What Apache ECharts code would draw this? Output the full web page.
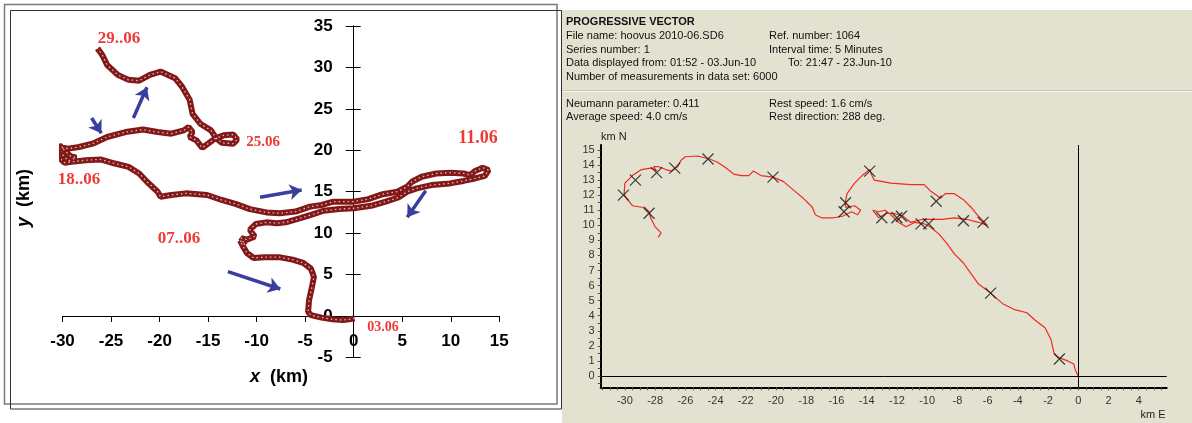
<!DOCTYPE html>
<html>
<head>
<meta charset="utf-8">
<script src="https://cdn.jsdelivr.net/npm/echarts@6/dist/echarts.min.js"></script>
<style>
  html, body { margin: 0; padding: 0; background: #fff; }
  #chart { width: 1192px; height: 423px; }
</style>
</head>
<body>
<div id="chart"></div>
<script>
// left plot: drift track in km (x east, y north)
const leftTrack = [
  [0.1,-0.3],[0,-0.5],[-1.1,-0.5],[-2.2,-0.4],[-3.3,-0.2],[-4.4,0.1],[-4.7,0.5],[-4.6,1.9],
  [-4.3,3.5],[-4.1,4.7],[-4.4,5.7],[-5.2,6.4],[-6.3,6.8],[-7.7,7.1],[-9.2,7.1],[-10.3,7.0],
  [-11.0,7.6],[-11.4,8.4],[-11.7,9.1],[-11.2,8.6],[-11.6,9.4],[-11.0,9.2],[-10.2,9.6],[-10.7,10.4],
  [-10.1,11.1],[-9.0,11.3],[-7.9,11.2],[-7.0,11.3],[-5.5,11.8],[-4.4,12.2],[-3.1,12.7],[-1.5,12.9],
  [0,13.0],[1.8,13.3],[3.3,13.8],[4.6,14.3],[5.5,15.0],[6.5,15.4],[8.0,15.8],[9.9,16.0],
  [11.3,16.3],[12.5,16.6],[13.5,16.9],[13.9,17.6],[13.3,17.9],[12.5,17.5],[12.0,17.0],[11.3,17.2],
  [10.0,17.3],[8.5,17.2],[7.0,16.8],[6.0,16.2],[5.5,15.6],[4.5,15.0],[3.0,14.7],[1.5,14.1],
  [0,13.8],[-2.1,13.8],[-3.3,13.4],[-4.5,13.2],[-6.0,12.6],[-7.6,12.4],[-9.0,12.5],[-10.7,12.9],
  [-12.1,13.5],[-13.6,14.0],[-15.1,14.6],[-17.3,14.8],[-18.8,14.6],[-19.9,14.4],[-20.2,15.0],[-21.3,16.2],
  [-22.1,17.2],[-23.2,18.0],[-24.6,18.4],[-26.1,18.9],[-27.6,18.8],[-29.1,18.6],[-29.8,18.5],[-30.4,19.2],
  [-30.6,19.9],[-30.3,20.6],[-29.7,19.9],[-29.2,19.3],[-28.6,19.1],[-29.4,18.7],[-30.1,19.6],[-30.4,20.4],
  [-29.4,20.2],[-28.3,20.4],[-26.9,20.8],[-25.4,21.6],[-23.5,22.2],[-21.7,22.5],[-20.2,22.2],[-18.8,22.0],
  [-17.5,22.4],[-17.0,22.8],[-16.6,22.2],[-16.9,21.6],[-16.2,21.2],[-15.6,20.3],[-15.0,20.8],[-14.3,21.4],
  [-13.4,21.8],[-12.4,21.9],[-12.0,21.3],[-12.4,20.8],[-13.6,20.9],[-14.2,21.5],[-14.7,22.4],[-15.8,23.2],
  [-16.6,24.4],[-16.9,26.1],[-17.7,27.7],[-18.4,28.7],[-19.9,29.5],[-21.0,29.1],[-22.1,28.4],[-23.2,28.5],
  [-24.3,29.1],[-25.4,30.3],[-25.9,31.5],[-26.4,32.3]
]
// blue arrows [from, to]
const leftArrows = [
  [[-22.7, 23.9], [-21.3, 27.6]],
  [[-27.0, 23.9], [-26.0, 22.05]],
  [[-9.65, 14.33], [-5.36, 15.21]],
  [[7.42, 15.12], [5.52, 11.91]],
  [[-12.96, 5.35], [-7.56, 3.26]]
]

// right plot: progressive vector
const rightTrack = [
  [0,0],[-0.2,0.4],[-0.3,0.8],[-0.7,1.0],[-1.25,1.2],[-1.6,1.5],[-1.8,2.4],[-2.2,3.2],
  [-2.85,3.7],[-3.4,4.2],[-4.2,4.4],[-5.0,4.8],[-5.8,5.5],[-6.6,6.1],[-7.1,6.8],[-7.6,7.5],
  [-8.2,8.1],[-8.7,8.8],[-9.2,9.4],[-9.8,9.9],[-10.2,10.1],[-10.8,10.2],[-11.4,9.9],[-11.9,10.2],
  [-12.4,10.7],[-12.8,11.0],[-13.2,10.9],[-13.6,11.0],[-13.2,10.5],[-12.7,10.8],[-12.2,10.8],[-11.6,10.6],
  [-11.1,10.2],[-10.3,10.4],[-9.0,10.4],[-8.2,10.5],[-7.4,10.4],[-6.6,10.2],[-6.0,10.0],[-6.6,10.6],
  [-7.1,11.2],[-7.6,11.7],[-8.2,12.1],[-8.8,12.1],[-9.1,11.8],[-9.8,12.3],[-10.2,12.7],[-11.1,12.7],
  [-12.4,12.8],[-13.5,13.0],[-13.7,13.4],[-13.8,13.7],[-14.3,13.3],[-14.8,12.8],[-15.3,12.1],[-15.4,11.6],
  [-15.4,11.2],[-14.8,11.3],[-14.4,11.0],[-14.6,10.7],[-15.0,10.9],[-15.6,10.6],[-16.2,10.5],[-17.0,10.5],
  [-17.4,10.7],[-17.6,11.2],[-18.2,11.8],[-18.8,12.3],[-19.5,12.9],[-20.2,13.2],[-21.0,13.3],[-21.5,13.6],
  [-21.8,13.3],[-22.3,13.3],[-22.8,13.4],[-23.3,13.8],[-23.9,14.2],[-24.4,14.4],[-25.2,14.6],[-26.0,14.55],
  [-26.3,14.3],[-26.5,13.9],[-26.9,13.6],[-27.3,13.7],[-27.8,13.9],[-28.1,13.9],[-27.9,13.6],[-28.3,13.8],
  [-28.9,13.7],[-29.5,13.3],[-30.0,12.8],[-30.05,12.1],[-29.9,11.8],[-29.5,11.3],[-28.9,11.2],[-28.7,11.2],
  [-28.4,10.9],[-28.3,10.5],[-28.0,9.9],[-27.8,9.7],[-27.6,9.5],[-27.8,9.2]
]
// daily cross markers
const rightMarks = [
  [-1.25,1.13],[-5.8,5.5],[-6.3,10.2],[-7.6,10.3],[-9.4,11.6],[-9.9,10.1],[-10.4,10.1],
  [-11.7,10.6],[-12.0,10.5],[-13.0,10.5],[-13.8,13.6],[-15.4,11.5],[-15.5,10.9],[-20.2,13.2],
  [-24.5,14.4],[-26.7,13.8],[-27.9,13.5],[-29.3,13.0],[-30.1,12.0],[-28.4,10.8]
]
const rightXLabels = [-30,-28,-26,-24,-22,-20,-18,-16,-14,-12,-10,-8,-6,-4,-2,0,2,4]
const rightYLabels = [0,1,2,3,4,5,6,7,8,9,10,11,12,13,14,15]
const rightXTicks = []
for (let v = -31.5; v <= 5.5; v += 0.5) rightXTicks.push(v)
const rightYTicks = []
for (let v = -0.5; v <= 15; v += 0.5) rightYTicks.push(v)

const infoLines = [
  ['PROGRESSIVE VECTOR', '', 22, true],
  ['File name: hoovus 2010-06.SD6', 'Ref. number: 1064', 36],
  ['Series number: 1', 'Interval time: 5 Minutes', 50],
  ['Data displayed from: 01:52 - 03.Jun-10', 'To: 21:47 - 23.Jun-10', 63],
  ['Number of measurements in data set: 6000', '', 77],
  ['Neumann parameter: 0.411', 'Rest speed: 1.6 cm/s', 104],
  ['Average speed: 4.0 cm/s', 'Rest direction: 288 deg.', 117]
]
const dateLabels = [
  ['29..06', 119, 39, 17], ['25.06', 263, 142, 15], ['11.06', 478, 138, 18],
  ['18..06', 79, 180, 17], ['07..06', 179, 239, 17], ['03.06', 383, 327, 14]
]

const chart = echarts.init(document.getElementById('chart'))
const sans = 'Liberation Sans, Arial, sans-serif'
const serif = 'Liberation Serif, Times New Roman, serif'

// left grid box, used to move the axes onto the zero lines
const L = { left: 62.5, top: 26, width: 436.8, height: 331.4 }
const xZeroOffset = -(L.height * 5 / 40)      // y = 0 sits 5/40 above the bottom
const yZeroOffset = -(L.width * 30 / 45)      // x = 0 sits 30/45 right of the left edge

const graphics = [
  { type: 'rect', z: -10, shape: { x: 562, y: 10, width: 630, height: 413 }, style: { fill: '#e3e1d0' } },
  { type: 'rect', shape: { x: 4.5, y: 4.5, width: 552.5, height: 399.5 }, style: { fill: 'none', stroke: '#7a7a7a', lineWidth: 1.5 } },
  { type: 'rect', shape: { x: 10.5, y: 10.5, width: 551, height: 398.5 }, style: { fill: 'none', stroke: '#333', lineWidth: 1 } },
  { type: 'line', shape: { x1: 562, y1: 91.5, x2: 1192, y2: 91.5 }, style: { stroke: '#f4f3ea', lineWidth: 1 } },
  { type: 'line', shape: { x1: 562, y1: 90.5, x2: 1192, y2: 90.5 }, style: { stroke: '#c9c7b6', lineWidth: 1 } },
  {
    type: 'text', x: 279, y: 377,
    style: {
      text: '{i|x}  (km)', font: 'bold 18px ' + sans, fill: '#000',
      align: 'center', verticalAlign: 'middle',
      rich: { i: { fontStyle: 'italic', fontWeight: 'bold', fontSize: 18, fontFamily: sans } }
    }
  },
  {
    type: 'text', x: 24, y: 198, rotation: Math.PI / 2,
    style: {
      text: '{i|y}  (km)', font: 'bold 18px ' + sans, fill: '#000',
      align: 'center', verticalAlign: 'middle',
      rich: { i: { fontStyle: 'italic', fontWeight: 'bold', fontSize: 18, fontFamily: sans } }
    }
  },
  {
    type: 'text', x: 601, y: 137,
    style: { text: 'km N', font: '11px ' + sans, fill: '#222', align: 'left', verticalAlign: 'middle' }
  },
  {
    type: 'text', x: 1153, y: 415,
    style: { text: 'km E', font: '11px ' + sans, fill: '#222', align: 'center', verticalAlign: 'middle' }
  }
]
dateLabels.forEach(function (d) {
  graphics.push({
    type: 'text', x: d[1], y: d[2],
    style: { text: d[0], font: 'bold ' + d[3] + 'px ' + serif, fill: '#ee3a36', align: 'center', verticalAlign: 'middle' }
  })
})
infoLines.forEach(function (l) {
  graphics.push({
    type: 'text', x: 566, y: l[2],
    style: { text: l[0], font: (l[3] ? 'bold ' : '') + '11px ' + sans, fill: '#111', align: 'left', verticalAlign: 'middle' }
  })
  if (l[1]) {
    graphics.push({
      type: 'text', x: l[0].indexOf('Data') === 0 ? 788 : 769, y: l[2],
      style: { text: l[1], font: '11px ' + sans, fill: '#111', align: 'left', verticalAlign: 'middle' }
    })
  }
})

const option = {
  animation: false,
  backgroundColor: '#fff',
  grid: [
    L,
    { left: 600.7, top: 145, width: 566, height: 242.3 }
  ],
  xAxis: [
    {
      gridIndex: 0, type: 'value', position: 'bottom', offset: xZeroOffset,
      min: -30, max: 15, interval: 5,
      axisLine: { onZero: false, lineStyle: { color: '#000', width: 1 } },
      axisTick: { length: 6, lineStyle: { color: '#000' } },
      axisLabel: { margin: 17, color: '#000', fontSize: 17, fontWeight: 'bold', fontFamily: sans },
      splitLine: { show: false }
    },
    {
      gridIndex: 1, type: 'value', min: -31.6, max: 5.85,
      axisLine: { onZero: false, lineStyle: { color: '#000', width: 2 } },
      axisTick: { customValues: rightXTicks, length: 3, lineStyle: { color: '#555' } },
      axisLabel: { customValues: rightXLabels, margin: 8, color: '#333', fontSize: 11, fontFamily: sans },
      splitLine: { show: false }
    }
  ],
  yAxis: [
    {
      gridIndex: 0, type: 'value', position: 'left', offset: yZeroOffset,
      min: -5, max: 35, interval: 5,
      axisLine: { onZero: false, lineStyle: { color: '#000', width: 1 } },
      axisTick: { length: 8, lineStyle: { color: '#000' } },
      axisLabel: { margin: 21, color: '#000', fontSize: 17, fontWeight: 'bold', fontFamily: sans },
      splitLine: { show: false }
    },
    {
      gridIndex: 0, type: 'value', position: 'left', offset: yZeroOffset,
      min: -5, max: 35, interval: 5,
      axisLine: { onZero: false, lineStyle: { color: '#000', width: 1 } },
      axisTick: { inside: true, length: 7, lineStyle: { color: '#000' } },
      axisLabel: { show: false },
      splitLine: { show: false }
    },
    {
      gridIndex: 1, type: 'value', min: -0.75, max: 15.33,
      axisLine: { onZero: false, lineStyle: { color: '#000', width: 2 } },
      axisTick: { customValues: rightYTicks, length: 3, lineStyle: { color: '#555' } },
      axisLabel: { customValues: rightYLabels, margin: 6, color: '#333', fontSize: 11, fontFamily: sans },
      splitLine: { show: false }
    }
  ],
  graphic: graphics,
  series: [
    {
      type: 'line', xAxisIndex: 0, yAxisIndex: 0, data: leftTrack,
      showSymbol: false,
      lineStyle: { color: '#821818', width: 6 }, z: 3, silent: true
    },
    {
      type: 'line', xAxisIndex: 0, yAxisIndex: 0, data: leftTrack,
      showSymbol: false,
      lineStyle: { color: '#e2bcbc', width: 1.3, type: [1.5, 3] }, z: 4, silent: true
    },
    {
      type: 'lines', coordinateSystem: 'cartesian2d', xAxisIndex: 0, yAxisIndex: 0,
      data: leftArrows.map(function (a) { return { coords: a } }),
      symbol: ['none', 'arrow'], symbolSize: 12,
      lineStyle: { color: '#3a3f9e', width: 3.5, opacity: 1 }, z: 5, silent: true
    },
    {
      type: 'line', xAxisIndex: 1, yAxisIndex: 2, data: rightTrack,
      showSymbol: false, lineStyle: { color: '#f02a22', width: 1.2 }, z: 3, silent: true,
      markLine: {
        silent: true, symbol: ['none', 'none'], label: { show: false },
        lineStyle: { color: '#000', width: 1, type: 'solid' },
        data: [{ xAxis: 0 }, { yAxis: 0 }]
      }
    },
    {
      type: 'scatter', xAxisIndex: 1, yAxisIndex: 2, data: rightMarks,
      symbol: 'path://M0,0L10,10M10,0L0,10', symbolSize: 11,
      itemStyle: { color: 'rgba(0,0,0,0)', borderColor: '#111', borderWidth: 1.2 }, z: 5, silent: true
    }
  ]
}
chart.setOption(option)
</script>
</body>
</html>
